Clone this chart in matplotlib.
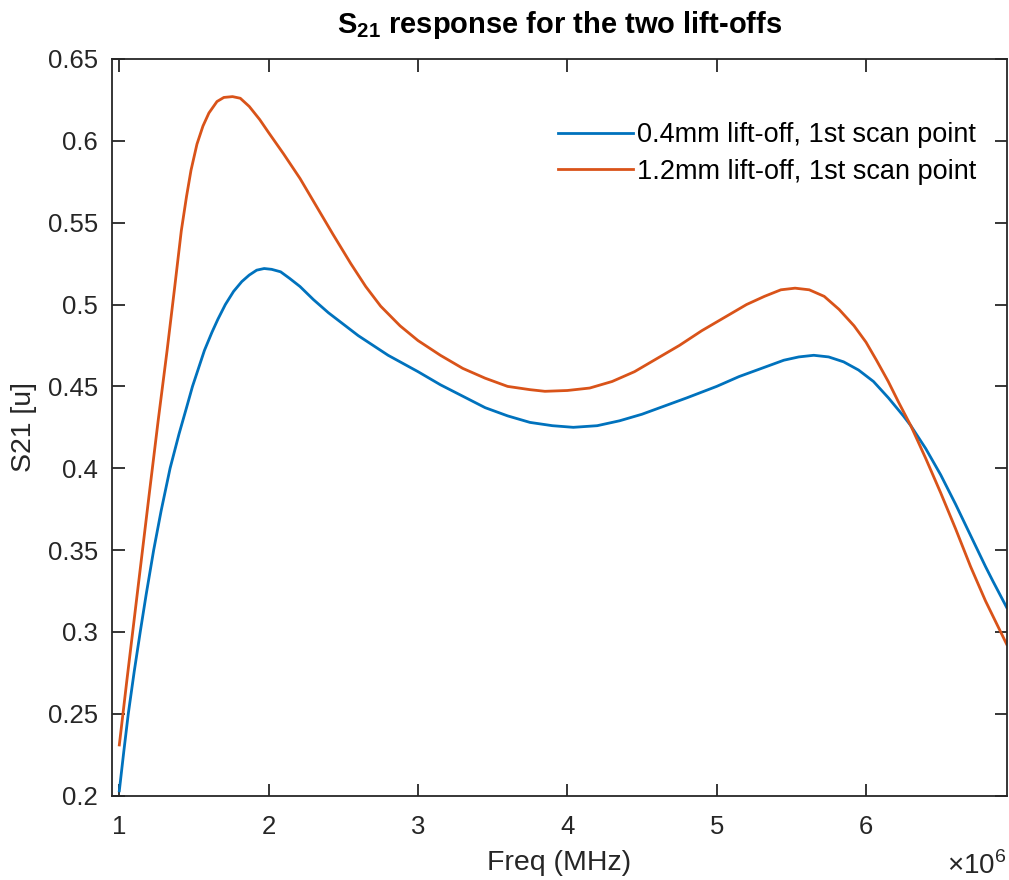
import numpy as np
import matplotlib
matplotlib.use("Agg")
import matplotlib.pyplot as plt
from matplotlib.ticker import FuncFormatter, FixedLocator

plt.rcParams['font.family'] = ['Liberation Sans', 'DejaVu Sans']
plt.rcParams['mathtext.fontset'] = 'custom'
plt.rcParams['mathtext.rm'] = 'Liberation Sans'
plt.rcParams['mathtext.bf'] = 'Liberation Sans:bold'

# Frequency (MHz) and S21 magnitude, 0.4 mm lift-off
freq_04 = np.array([
    1.00, 1.03, 1.06, 1.10, 1.14, 1.18, 1.23, 1.28, 1.34, 1.40,
    1.45, 1.49, 1.53, 1.57, 1.62, 1.66, 1.71, 1.765, 1.82, 1.87,
    1.92, 1.97, 2.02, 2.08, 2.14, 2.21, 2.30, 2.40, 2.50, 2.60,
    2.70, 2.80, 2.90, 3.00, 3.15, 3.30, 3.45, 3.60, 3.75, 3.90,
    4.04, 4.20, 4.35, 4.50, 4.65, 4.80, 5.00, 5.15, 5.30, 5.45,
    5.55, 5.65, 5.75, 5.85, 5.95, 6.05, 6.15, 6.25, 6.30, 6.40,
    6.50, 6.60, 6.70, 6.80, 6.85, 6.942])
s21_04 = np.array([
    0.203, 0.227, 0.250, 0.276, 0.300, 0.323, 0.350, 0.374, 0.400, 0.421,
    0.437, 0.450, 0.461, 0.472, 0.483, 0.491, 0.500, 0.508, 0.514, 0.518,
    0.521, 0.522, 0.5215, 0.520, 0.516, 0.511, 0.503, 0.495, 0.488, 0.481,
    0.475, 0.469, 0.464, 0.459, 0.451, 0.444, 0.437, 0.432, 0.428, 0.426,
    0.425, 0.426, 0.429, 0.433, 0.438, 0.443, 0.450, 0.456, 0.461, 0.466,
    0.468, 0.469, 0.468, 0.465, 0.460, 0.453, 0.443, 0.432, 0.426, 0.412,
    0.396, 0.378, 0.359, 0.340, 0.331, 0.315])

# Frequency (MHz) and S21 magnitude, 1.2 mm lift-off
freq_12 = np.array([
    1.00, 1.05, 1.10, 1.15, 1.20, 1.26, 1.32, 1.37, 1.415, 1.45,
    1.48, 1.52, 1.56, 1.60, 1.654, 1.70, 1.758, 1.81, 1.87, 1.94,
    2.00, 2.10, 2.21, 2.32, 2.43, 2.55, 2.65, 2.75, 2.88, 3.00,
    3.15, 3.30, 3.45, 3.60, 3.75, 3.85, 4.00, 4.15, 4.30, 4.45,
    4.60, 4.75, 4.90, 5.05, 5.20, 5.32, 5.43, 5.525, 5.62, 5.72,
    5.82, 5.92, 6.00, 6.07, 6.149, 6.22, 6.30, 6.40, 6.50, 6.60,
    6.70, 6.80, 6.942])
s21_12 = np.array([
    0.231, 0.270, 0.308, 0.346, 0.384, 0.429, 0.472, 0.510, 0.545, 0.566,
    0.582, 0.598, 0.609, 0.617, 0.624, 0.6265, 0.627, 0.626, 0.621, 0.613,
    0.605, 0.592, 0.577, 0.560, 0.543, 0.525, 0.511, 0.499, 0.487, 0.478,
    0.469, 0.461, 0.455, 0.450, 0.448, 0.447, 0.4475, 0.449, 0.453, 0.459,
    0.467, 0.475, 0.484, 0.492, 0.500, 0.505, 0.509, 0.510, 0.509, 0.505,
    0.497, 0.487, 0.477, 0.466, 0.453, 0.440, 0.426, 0.406, 0.385, 0.363,
    0.340, 0.319, 0.2925])

labels = ['0.4mm lift-off, 1st scan point', '1.2mm lift-off, 1st scan point']
x_ticks = [1e6, 2e6, 3e6, 4e6, 5e6, 6e6]
y_ticks = [0.2, 0.25, 0.3, 0.35, 0.4, 0.45, 0.5, 0.55, 0.6, 0.65]

axis_color = '#262626'

fig = plt.figure(figsize=(10.09, 8.8), dpi=100)
ax = fig.add_axes([0.111, 0.0958, 0.8867, 0.8372])

ax.plot(freq_04 * 1e6, s21_04, color='#0072BD', lw=2.0, label=labels[0])
ax.plot(freq_12 * 1e6, s21_12, color='#D95319', lw=2.0, label=labels[1])

ax.set_xlim(0.951e6, 6.942e6)
ax.set_ylim(0.2, 0.65)
ax.xaxis.set_major_locator(FixedLocator(x_ticks))
ax.yaxis.set_major_locator(FixedLocator(y_ticks))
ax.xaxis.set_major_formatter(FuncFormatter(lambda v, p: f"{v / 1e6:g}"))
ax.yaxis.set_major_formatter(FuncFormatter(lambda v, p: f"{v:g}"))

ax.tick_params(direction='in', length=9, width=1.3, colors=axis_color,
               labelsize=18.5, top=True, right=True)
ax.tick_params(axis='x', pad=14)
ax.tick_params(axis='y', pad=10)
for sp in ax.spines.values():
    sp.set_color(axis_color)
    sp.set_linewidth(1.3)

ax.set_xlabel('Freq (MHz)', fontsize=20.5, color=axis_color, labelpad=8)
ax.set_ylabel('S21 [u]', fontsize=20.5, color=axis_color, labelpad=8)
ax.set_title(r'$\mathbf{S_{21}}$ response for the two lift-offs',
             fontsize=21, fontweight='bold', pad=19)

ax.text(1.0, -0.076, r'$\times$10$^{6}$', transform=ax.transAxes,
        ha='right', va='top', fontsize=20, color=axis_color)

ax.legend(loc='upper right', bbox_to_anchor=(0.966, 0.914), frameon=False,
          fontsize=19.5, handlelength=2.75, handletextpad=0.15, labelspacing=0.38,
          borderaxespad=0.0, borderpad=0.0, labelcolor='black')

fig.savefig('out.png', dpi=100)
